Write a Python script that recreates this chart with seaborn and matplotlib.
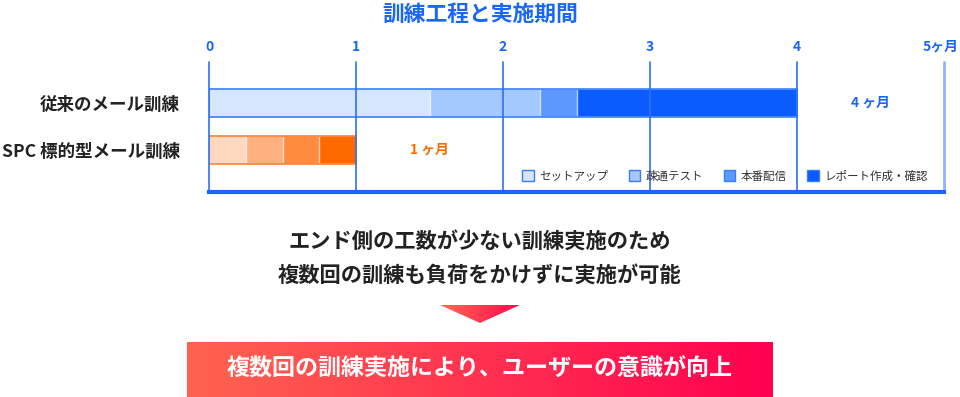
import numpy as np
import pandas as pd
import matplotlib
matplotlib.use("Agg")
import matplotlib.pyplot as plt
from matplotlib.patches import Patch, Polygon
from matplotlib.colors import LinearSegmentedColormap
import matplotlib.transforms as mtransforms
import seaborn as sns

# ---------------- data ----------------
rows = ["従来のメール訓練", "SPC 標的型メール訓練"]
stages = ["セットアップ", "疎通テスト", "本番配信", "レポート作成・確認"]
conventional = [1.5, 0.75, 0.25, 1.5]     # months per stage
spc = [0.25, 0.25, 0.25, 0.25]            # months per stage
month_ticks = [0, 1, 2, 3, 4, 5]
tick_labels = ["0", "1", "2", "3", "4", "5ヶ月"]
duration_labels = ["4 ヶ月", "1 ヶ月"]
title = "訓練工程と実施期間"
message_lines = ["エンド側の工数が少ない訓練実施のため", "複数回の訓練も負荷をかけずに実施が可能"]
result_text = "複数回の訓練実施により、ユーザーの意識が向上"

blues = ["#d6e6ff", "#a3c9ff", "#5c99ff", "#0a5cff"]
oranges = ["#ffd8bf", "#ffb080", "#ff8c40", "#ff6a00"]
BLUE = "#1a66f5"

sns.set_theme(style="white")
plt.rcParams["font.family"] = ["Noto Sans CJK JP", "DejaVu Sans"]

W, H = 960, 397
fig = plt.figure(figsize=(W / 100, H / 100), dpi=100)

def fx(px):
    return px / W

def fy(py):
    return 1 - py / H

# main axes: x 209 -> 944 px, y 62 -> 192 px
ax = fig.add_axes([fx(209), fy(192), fx(944) - fx(209), fy(62) - fy(192)])

cum1 = np.cumsum(conventional)
cum2 = np.cumsum(spc)

for i in reversed(range(len(stages))):
    df = pd.DataFrame({"row": rows, "end": [cum1[i], cum2[i]]})
    sns.barplot(data=df, x="end", y="row", hue="row", orient="h",
                palette=[blues[i], oranges[i]], width=0.6, linewidth=0,
                saturation=1, legend=False, ax=ax, zorder=2)

# segment dividers
for r, cum in enumerate([cum1, cum2]):
    ax.vlines(cum[:-1], r - 0.3, r + 0.3, color="white", lw=1.0, alpha=0.7, zorder=3)

# outline
df_tot = pd.DataFrame({"row": rows, "end": [cum1[-1], cum2[-1]]})
sns.barplot(data=df_tot, x="end", y="row", hue="row", orient="h",
            palette=["#4a88ff", "#ff8a3d"], width=0.6, fill=False, linewidth=1.3,
            saturation=1, legend=False, ax=ax, zorder=4)

# month grid lines
for t in month_ticks:
    ax.axvline(t, color="#8db3ff" if t == month_ticks[-1] else "#2e6ff0",
               lw=2.0 if t == month_ticks[-1] else 1.2, zorder=5, clip_on=False)

ax.set_xlim(0, 5)
ax.set_ylim(1.894, -0.872)
for s in ["top", "left", "right"]:
    ax.spines[s].set_visible(False)
ax.spines["bottom"].set_color(BLUE)
ax.spines["bottom"].set_linewidth(3)
ax.spines["bottom"].set_zorder(6)

ax.xaxis.tick_top()
ax.set_xticks(month_ticks)
ax.set_xticklabels(tick_labels, color=BLUE, fontweight="bold", fontsize=10)
ax.tick_params(axis="x", length=0, pad=6)
last = ax.get_xticklabels()[-1]
last.set_transform(last.get_transform() +
                   mtransforms.ScaledTranslation(-3 / 100, 0, fig.dpi_scale_trans))
ax.set_yticks([0, 1])
ax.set_yticklabels(rows, color="#222222", fontweight="bold", fontsize=12.6)
ax.tick_params(axis="y", length=0, pad=21)
ax.set_xlabel("")
ax.set_ylabel("")
ax.grid(False)

# duration labels
ax.text(cum1[-1] + 0.5, 0, duration_labels[0], color=BLUE, fontweight="bold",
        fontsize=10, ha="center", va="center", zorder=7)
ax.text(cum2[-1] + 0.5, 1, duration_labels[1], color="#ff6a00", fontweight="bold",
        fontsize=10, ha="center", va="center", zorder=7)

# legend
handles = [Patch(facecolor=c, edgecolor="#3a7bff", linewidth=1.0, label=s)
           for c, s in zip(blues, stages)]
leg = fig.legend(handles=handles, loc="center", bbox_to_anchor=(fx(725), fy(176)),
                 ncol=4, frameon=False, fontsize=8.3, handlelength=1.0,
                 handleheight=1.0, handletextpad=0.45, columnspacing=1.8)
for t in leg.get_texts():
    t.set_color("#333333")

# title
fig.text(fx(480), fy(14), title, color=BLUE, fontweight="bold", fontsize=15.7,
         ha="center", va="center")

# message lines
fig.text(fx(480), fy(241), message_lines[0], color="#222222", fontweight="bold",
         fontsize=15.3, ha="center", va="center")
fig.text(fx(480), fy(275), message_lines[1], color="#222222", fontweight="bold",
         fontsize=15.3, ha="center", va="center")

# gradient triangle
grad_cmap = LinearSegmentedColormap.from_list("g", ["#ff6a50", "#ff0a50"])
tri_ax = fig.add_axes([fx(440), fy(323), fx(520) - fx(440), fy(305) - fy(323)])
grad = np.linspace(0, 1, 256).reshape(1, -1)
im = tri_ax.imshow(grad, cmap=grad_cmap, aspect="auto", extent=[0, 1, 0, 1])
tri = Polygon([[0, 1], [1, 1], [0.5, 0]], closed=True, transform=tri_ax.transData,
              facecolor="none", edgecolor="none")
tri_ax.add_patch(tri)
im.set_clip_path(tri)
tri_ax.set_xlim(0, 1)
tri_ax.set_ylim(0, 1)
tri_ax.axis("off")

# gradient result box
box_cmap = LinearSegmentedColormap.from_list("b", ["#ff6450", "#ff0050"])
box_ax = fig.add_axes([fx(187), 0, fx(773) - fx(187), fy(342)])
box_ax.imshow(grad, cmap=box_cmap, aspect="auto", extent=[0, 1, 0, 1])
box_ax.set_xlim(0, 1)
box_ax.set_ylim(0, 1)
box_ax.axis("off")
box_ax.text(0.5, 0.5, result_text, color="white", fontweight="bold", fontsize=16.6,
            ha="center", va="center", transform=box_ax.transAxes)

fig.savefig("out.png", dpi=100)
